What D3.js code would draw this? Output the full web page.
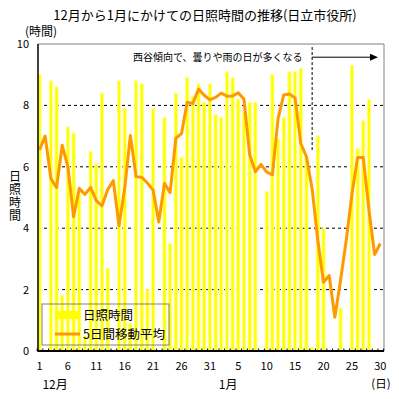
<!DOCTYPE html>
<html>
<head>
<meta charset="utf-8">
<script src="https://cdn.jsdelivr.net/npm/d3@7"></script>
<style>
  body { margin: 0; background: #fff; }
  svg { display: block; font-family: "Noto Sans CJK JP", "Noto Sans", sans-serif; }
</style>
</head>
<body>
<svg id="chart" width="399" height="399"></svg>
<script>
// daily sunshine hours, Dec 1 .. Jan 30
var decHours = [9.0, 0, 8.8, 8.6, 1.8, 7.3, 7.1, 5.2, 0.5, 6.5,
                6.1, 8.4, 2.7, 0, 8.8, 7.9, 0.9, 8.8, 8.7, 2.0,
                7.9, 0, 7.6, 3.5, 8.4, 6.3, 8.9, 8.3, 8.7, 8.1, 8.7];
var janHours = [7.7, 7.6, 9.1, 8.9, 8.2, 7.8, 8.1, 8.1, 0, 5.2,
                9.0, 6.9, 7.6, 9.1, 9.1, 9.2, 6.3, 0.1, 7.0, 4.0,
                0, 0, 1.4, 0, 9.3, 6.6, 7.5, 8.2, 0, 0];
// 5-day moving average
var decAvg = [6.55, 7.0, 5.62, 5.32, 6.7, 6.0, 4.37, 5.3, 5.1, 5.33,
              4.9, 4.73, 5.25, 5.55, 4.08, 5.3, 7.02, 5.68, 5.66, 5.47,
              5.24, 4.2, 5.46, 5.16, 6.93, 7.08, 8.1, 8.06, 8.53, 8.33, 8.18];
var janAvg = [8.26, 8.4, 8.3, 8.31, 8.41, 8.2, 6.4, 5.84, 6.08, 5.83,
              5.74, 7.57, 8.34, 8.37, 8.24, 6.76, 6.33, 5.28, 3.6, 2.24,
              2.46, 1.1, 2.3, 3.6, 5.1, 6.3, 6.3, 4.6, 3.14, 3.5];
var xTickLabels = ['1', '6', '11', '16', '21', '26', '31', '5', '10', '15', '20', '25', '30'];
var yTicks = [0, 2, 4, 6, 8, 10];
var gridValues = [2, 4, 6, 8];

var hours = decHours.concat(janHours);
var avg = decAvg.concat(janAvg);

var svg = d3.select('#chart');
var plotL = 38, plotR = 384, plotT = 44, plotB = 351;
var yellow = '#ffff00', orange = '#ff9900';

var x = d3.scaleLinear().domain([0, hours.length - 1]).range([39.5, 380.3]);
var y = d3.scaleLinear().domain([0, 10]).range([plotB, plotT]);

// title
svg.append('text')
    .attr('x', 205).attr('y', 20)
    .attr('text-anchor', 'middle')
    .attr('font-size', 13)
    .text('12月から1月にかけての日照時間の推移(日立市役所)');

// dashed grid, behind the bars
svg.append('g').selectAll('line')
    .data(gridValues)
    .join('line')
    .attr('x1', plotL).attr('x2', plotR)
    .attr('y1', function(d) { return y(d); })
    .attr('y2', function(d) { return y(d); })
    .attr('stroke', '#000')
    .attr('stroke-dasharray', '3,3');

// bars
svg.append('g').selectAll('rect')
    .data(hours)
    .join('rect')
    .attr('x', function(d, i) { return x(i) - 1.6; })
    .attr('y', function(d) { return y(d); })
    .attr('width', 3.2)
    .attr('height', function(d) { return plotB - y(d); })
    .attr('fill', yellow)
    .attr('stroke', '#ffff90')
    .attr('stroke-width', 0.8);

// moving average line
var line = d3.line()
    .x(function(d, i) { return x(i); })
    .y(function(d) { return y(d); });
svg.append('path')
    .datum(avg)
    .attr('d', line)
    .attr('fill', 'none')
    .attr('stroke', orange)
    .attr('stroke-width', 3)
    .attr('stroke-linejoin', 'round');

// frame: grey top/right, black axes
svg.append('path')
    .attr('d', 'M' + plotL + ',' + plotT + 'H' + plotR + 'V' + plotB)
    .attr('fill', 'none')
    .attr('stroke', '#808080');
svg.append('line')
    .attr('x1', plotL).attr('x2', plotL).attr('y1', plotT).attr('y2', plotB)
    .attr('stroke', '#000').attr('stroke-width', 1.5);

// x axis with small ticks between days
var xAxis = d3.axisBottom(x)
    .tickValues(d3.range(-0.5, hours.length, 1))
    .tickSize(-2.5)
    .tickFormat('');
var gx = svg.append('g')
    .attr('transform', 'translate(0,' + plotB + ')')
    .call(xAxis);
gx.select('.domain').remove();
gx.selectAll('.tick line').attr('stroke', '#000');
svg.append('line')
    .attr('x1', plotL - 0.75).attr('x2', plotR).attr('y1', plotB).attr('y2', plotB)
    .attr('stroke', '#000').attr('stroke-width', 2);

svg.append('g').selectAll('text')
    .data(xTickLabels)
    .join('text')
    .attr('x', function(d, i) { return x(i * 5); })
    .attr('y', 370)
    .attr('text-anchor', 'middle')
    .attr('font-size', 11)
    .text(function(d) { return d; });

svg.append('text').attr('x', x(2.75)).attr('y', 389)
    .attr('text-anchor', 'middle').attr('font-size', 12).text('12月');
svg.append('text').attr('x', x(33.2)).attr('y', 389)
    .attr('text-anchor', 'middle').attr('font-size', 12).text('1月');
svg.append('text').attr('x', 381).attr('y', 388)
    .attr('text-anchor', 'middle').attr('font-size', 11.5).text('(日)');

// y labels
svg.append('g').selectAll('text')
    .data(yTicks)
    .join('text')
    .attr('x', 29)
    .attr('y', function(d) { return y(d) + 4; })
    .attr('text-anchor', 'end')
    .attr('font-size', 11)
    .text(function(d) { return d; });

svg.append('text').attr('x', 25).attr('y', 36)
    .attr('font-size', 12).text('(時間)');

// vertical axis title
svg.append('text')
    .attr('x', 15).attr('y', 196)
    .attr('writing-mode', 'vertical-rl')
    .attr('text-anchor', 'middle')
    .attr('letter-spacing', 1)
    .attr('font-size', 12)
    .text('日照時間');

// annotation: dashed marker and arrow
svg.append('text').attr('x', 133).attr('y', 60.5)
    .attr('font-size', 10)
    .text('西谷傾向で、曇りや雨の日が多くなる');
svg.append('line')
    .attr('x1', x(48)).attr('x2', x(48))
    .attr('y1', y(9.9)).attr('y2', y(6.5))
    .attr('stroke', '#000')
    .attr('stroke-dasharray', '3,2');
svg.append('line')
    .attr('x1', x(48)).attr('x2', 371)
    .attr('y1', y(9.57)).attr('y2', y(9.57))
    .attr('stroke', '#000');
svg.append('path')
    .attr('d', 'M370,' + (y(9.57) - 3.5) + 'L378,' + y(9.57) + 'L370,' + (y(9.57) + 3.5) + 'Z')
    .attr('fill', '#000');

// legend
var legend = svg.append('g');
legend.append('rect')
    .attr('x', 42).attr('y', 304).attr('width', 127).attr('height', 41)
    .attr('fill', 'none').attr('stroke', '#808080');
legend.append('rect')
    .attr('x', 55).attr('y', 311).attr('width', 25).attr('height', 8)
    .attr('fill', yellow);
legend.append('text').attr('x', 83).attr('y', 320)
    .attr('font-size', 12.5).text('日照時間');
legend.append('line')
    .attr('x1', 55).attr('x2', 80).attr('y1', 334).attr('y2', 334)
    .attr('stroke', orange).attr('stroke-width', 3);
legend.append('text').attr('x', 83).attr('y', 339)
    .attr('font-size', 12.5).text('5日間移動平均');
</script>
</body>
</html>
